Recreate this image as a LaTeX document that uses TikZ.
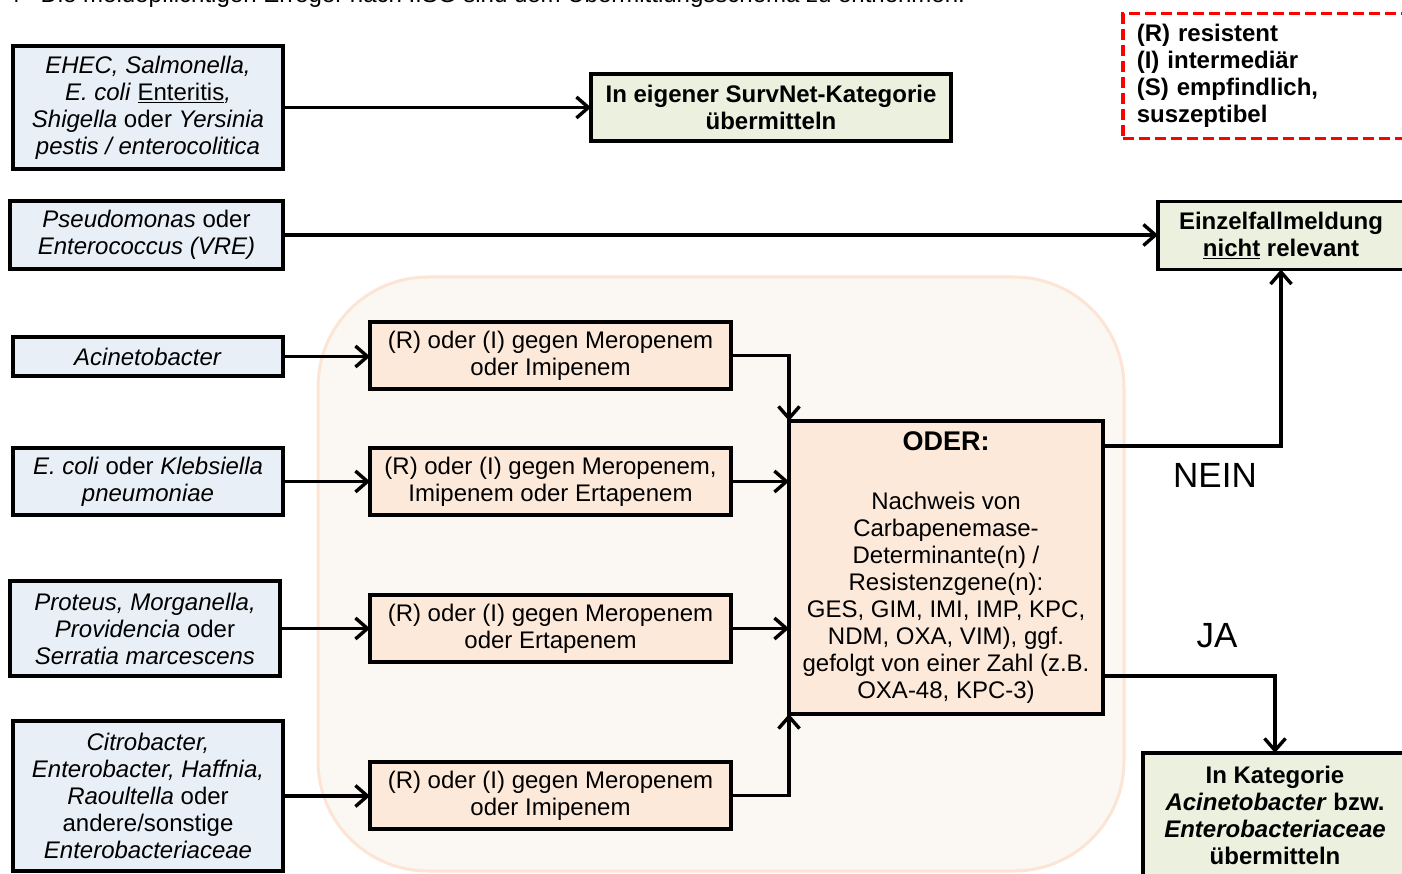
\documentclass[tikz,border=0pt]{standalone}
\usepackage{fontspec}
\setmainfont{Liberation Sans}
\usetikzlibrary{arrows.meta,calc}
\definecolor{blueF}{RGB}{233,239,247}
\definecolor{peachF}{RGB}{253,233,217}
\definecolor{greenF}{RGB}{235,241,222}
\definecolor{bgF}{RGB}{251,247,242}
\definecolor{bgD}{RGB}{252,229,212}
\begin{document}
\begin{tikzpicture}[x=1pt,y=-1pt,
  box/.style={draw=black, line width=3.4pt, align=center, inner sep=0pt, outer sep=0pt,
    font=\fontsize{24}{27}\selectfont},
  src/.style={box, fill=blueF, minimum width=270pt},
  cond/.style={box, fill=peachF, minimum width=361pt, minimum height=67pt},
  res/.style={box, fill=greenF, font=\fontsize{24}{27}\selectfont\bfseries},
  arr/.style={line width=3.4pt, -{Straight Barb[length=12pt,width=21pt]}},
  lbl/.style={font=\fontsize{35}{40}\selectfont, inner sep=0pt}
]
\useasboundingbox (0,0) rectangle (1402,874);
\clip (0,0) rectangle (1402,874);

% title (cut off at top, as in the reference)
\node[anchor=base west, inner sep=0pt, font=\fontsize{24}{27}\selectfont] (title) at (7,2.5)
  {4\hspace{20pt}Die meldepflichtigen Erreger nach IfSG sind dem Übermittlungsschema zu entnehmen.};

% background panel
\node[draw=bgD, fill=bgF, line width=3pt, rounded corners=110pt,
  minimum width=806pt, minimum height=594pt, inner sep=0pt] (bg) at (721,574) {};

% legend
\node[draw=red, line width=3.5pt, dash pattern=on 11pt off 5pt, anchor=north west,
  minimum height=125pt, text width=262pt, inner xsep=14pt, inner ysep=0pt, align=left,
  font=\fontsize{24}{27}\selectfont\bfseries] (legend) at (1121,12)
  {(R) resistent\\(I) intermediär\\(S) empfindlich,\\suszeptibel};

% source boxes
\node[src, minimum height=123pt] (ehec) at (148,107.5)
  {\textit{EHEC, Salmonella,}\\\textit{E. coli} \underline{Enteritis}\textit{,}\\\textit{Shigella} oder \textit{Yersinia}\\\textit{pestis / enterocolitica}};
\node[src, minimum width=273pt, minimum height=68pt] (pseudo) at (146.5,235)
  {\textit{Pseudomonas} oder\\\textit{Enterococcus (VRE)}};
\node[src, minimum height=39pt] (acin) at (148,356.5) {\textit{Acinetobacter}};
\node[src, minimum height=67pt] (ecoli) at (148,481.5)
  {\textit{E. coli} oder \textit{Klebsiella}\\\textit{pneumoniae}};
\node[src, minimum height=95pt] (proteus) at (145,628.5)
  {\textit{Proteus, Morganella,}\\\textit{Providencia} oder\\\textit{Serratia marcescens}};
\node[src, minimum height=150pt] (citro) at (148,796)
  {\textit{Citrobacter,}\\\textit{Enterobacter, Haffnia,}\\\textit{Raoultella} oder\\andere/sonstige\\\textit{Enterobacteriaceae}};

% condition boxes
\node[cond] (ri1) at (550.5,355.5) {(R) oder (I) gegen Meropenem\\oder Imipenem};
\node[cond] (ri2) at (550.5,481.5) {(R) oder (I) gegen Meropenem,\\Imipenem oder Ertapenem};
\node[cond] (ri3) at (550.5,628.5) {(R) oder (I) gegen Meropenem\\oder Ertapenem};
\node[cond] (ri4) at (550.5,795.5) {(R) oder (I) gegen Meropenem\\oder Imipenem};

% ODER box
\node[box, fill=peachF, minimum width=314pt, minimum height=293pt] (oder) at (946,567.5)
  {{\fontsize{27}{30}\selectfont\bfseries ODER:}\\[32pt]Nachweis von\\Carbapenemase-\\Determinante(n) /\\Resistenzgene(n):\\GES, GIM, IMI, IMP, KPC,\\NDM, OXA, VIM), ggf.\\gefolgt von einer Zahl (z.B.\\OXA-48, KPC-3)};

% result boxes
\node[res, minimum width=360pt, minimum height=67pt] (surv) at (771,107.5)
  {In eigener SurvNet-Kategorie\\übermitteln};
\node[res, minimum width=246pt, minimum height=68pt] (einzel) at (1281,235.5)
  {Einzelfallmeldung\\\underline{nicht} relevant};
\node[res, anchor=north, minimum width=264pt, inner ysep=13pt] (final) at (1275,753)
  {In Kategorie\\\textit{Acinetobacter} bzw.\\\textit{Enterobacteriaceae}\\übermitteln};

% labels
\node[lbl] (nein) at (1215,475) {NEIN};
\node[lbl] (ja) at (1217,636) {JA};

% connectors
\draw[arr] (ehec.east) -- (ehec.east -| surv.west);
\draw[arr] (pseudo.east) -- (pseudo.east -| einzel.west);
\draw[arr] (acin.east) -- (acin.east -| ri1.west);
\draw[arr] (ecoli.east) -- (ecoli.east -| ri2.west);
\draw[arr] (proteus.east) -- (proteus.east -| ri3.west);
\draw[arr] (citro.east) -- (citro.east -| ri4.west);
\draw[arr] (ri1.east) -| (oder.north west);
\draw[arr] (ri2.east) -- (ri2.east -| oder.west);
\draw[arr] (ri3.east) -- (ri3.east -| oder.west);
\draw[arr] (ri4.east) -| (oder.south west);
\draw[arr] ($(oder.north east)+(0,25)$) -| (einzel.south);
\draw[arr] ($(oder.south east)+(0,-38)$) -| (final.north);
\end{tikzpicture}
\end{document}
